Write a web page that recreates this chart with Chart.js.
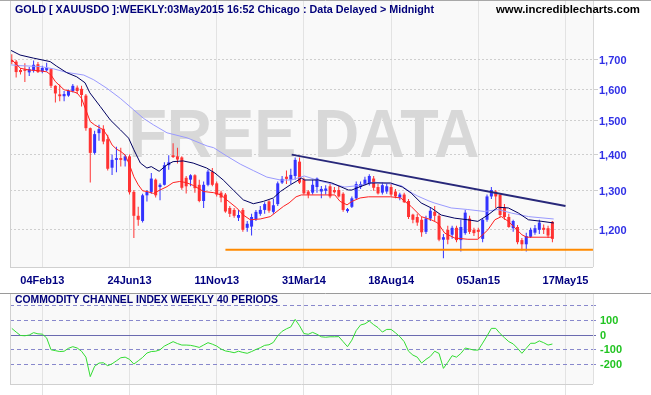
<!DOCTYPE html>
<html>
<head>
<meta charset="utf-8">
<script src="https://cdn.jsdelivr.net/npm/chart.js"></script>
<style>
  html, body { margin: 0; padding: 0; background: #fff; }
  body { width: 651px; height: 395px; position: relative; overflow: hidden; }
  #main { position: absolute; left: 0; top: 0; }
  #cci { position: absolute; left: 0; top: 293px; }
</style>
</head>
<body>
<canvas id="main" width="651" height="292"></canvas>
<canvas id="cci" width="651" height="102"></canvas>
<script>
// weekly candles, week 0 = 04Feb13
const firstWeek = -7;
const opens = [
  1700, 1694, 1665, 1667, 1657, 1663, 1685,
  1660, 1664, 1668, 1612, 1584, 1578, 1580, 1595, 1606, 1602,
  1580, 1478, 1405, 1463, 1476, 1445, 1363, 1385, 1390, 1383,
  1395, 1297, 1235, 1222, 1288, 1297, 1330, 1310, 1316, 1370,
  1398, 1395, 1392, 1335, 1330, 1342, 1316, 1273, 1316, 1352,
  1320, 1295, 1290, 1255, 1250, 1230, 1250, 1205, 1208, 1227,
  1240, 1250, 1272, 1245, 1265, 1322, 1338, 1330, 1340, 1380,
  1330, 1298, 1295, 1310, 1298, 1300, 1312, 1302, 1302, 1292,
  1247, 1258, 1280, 1310, 1318, 1318, 1333, 1310, 1295, 1298,
  1310, 1298, 1282, 1290, 1273, 1238, 1232, 1225, 1195, 1228,
  1245, 1235, 1176, 1200, 1188, 1205, 1175, 1192, 1228, 1200,
  1200, 1178, 1225, 1285, 1298, 1289, 1256, 1232, 1204, 1207,
  1175, 1165, 1183, 1193, 1200, 1205, 1204, 1220
];
const highs = [
  1720, 1700, 1672, 1688, 1675, 1698, 1693,
  1680, 1690, 1672, 1614, 1616, 1595, 1600, 1618, 1613, 1612,
  1585, 1480, 1470, 1488, 1487, 1458, 1400, 1423, 1420, 1400,
  1400, 1302, 1258, 1292, 1302, 1348, 1333, 1320, 1378, 1398,
  1433, 1420, 1395, 1340, 1345, 1345, 1330, 1325, 1357, 1362,
  1325, 1300, 1294, 1260, 1255, 1250, 1255, 1222, 1240, 1250,
  1260, 1270, 1275, 1278, 1325, 1340, 1355, 1360, 1392, 1392,
  1335, 1302, 1330, 1336, 1313, 1315, 1318, 1310, 1315, 1296,
  1255, 1285, 1325, 1325, 1338, 1345, 1340, 1318, 1322, 1320,
  1318, 1305, 1295, 1295, 1278, 1240, 1240, 1232, 1235, 1255,
  1260, 1240, 1190, 1210, 1210, 1210, 1225, 1250, 1235, 1205,
  1205, 1228, 1290, 1310, 1302, 1292, 1265, 1240, 1225, 1212,
  1180, 1193, 1205, 1212, 1225, 1213, 1210, 1222
];
const lows = [
  1686, 1640, 1650, 1625, 1645, 1657, 1655,
  1654, 1660, 1605, 1558, 1562, 1562, 1576, 1590, 1585, 1545,
  1470, 1322, 1400, 1440, 1430, 1355, 1343, 1350, 1366, 1366,
  1290, 1180, 1210, 1218, 1272, 1292, 1282, 1275, 1314, 1357,
  1390, 1375, 1303, 1293, 1312, 1295, 1270, 1255, 1312, 1312,
  1285, 1270, 1243, 1232, 1230, 1222, 1195, 1195, 1186, 1222,
  1235, 1240, 1243, 1240, 1260, 1318, 1318, 1318, 1330, 1318,
  1290, 1280, 1290, 1295, 1280, 1290, 1280, 1293, 1282, 1245,
  1243, 1255, 1278, 1305, 1315, 1314, 1300, 1290, 1290, 1292,
  1285, 1280, 1275, 1268, 1227, 1216, 1210, 1183, 1190, 1222,
  1222, 1172, 1132, 1165, 1178, 1170, 1148, 1188, 1190, 1185,
  1178, 1170, 1220, 1278, 1255, 1232, 1225, 1205, 1195, 1165,
  1150, 1148, 1180, 1188, 1190, 1190, 1180, 1170
];
const closes = [
  1693, 1658, 1658, 1662, 1668, 1683, 1658,
  1672, 1672, 1612, 1587, 1578, 1585, 1595, 1612, 1595, 1582,
  1478, 1405, 1460, 1475, 1438, 1360, 1385, 1390, 1385, 1395,
  1296, 1235, 1225, 1288, 1297, 1333, 1288, 1316, 1370, 1378,
  1393, 1386, 1308, 1312, 1342, 1307, 1273, 1316, 1352, 1316,
  1290, 1282, 1246, 1240, 1235, 1237, 1200, 1215, 1232, 1245,
  1250, 1265, 1248, 1262, 1320, 1332, 1332, 1343, 1385, 1322,
  1293, 1290, 1316, 1333, 1305, 1306, 1285, 1296, 1285, 1250,
  1252, 1280, 1318, 1318, 1330, 1340, 1308, 1293, 1315, 1312,
  1290, 1285, 1290, 1270, 1232, 1225, 1218, 1194, 1228, 1248,
  1235, 1176, 1182, 1176, 1205, 1175, 1207, 1243, 1195, 1192,
  1195, 1225, 1285, 1302, 1285, 1237, 1232, 1207, 1222, 1170,
  1165, 1185, 1200, 1204, 1218, 1200, 1186, 1178
];

// overlay lines: [week, price]
const redLine = [[-7,1700],[-5,1671],[-3,1665],[-1,1663],[1,1659],[2,1648],[3,1626],[5,1599],[7,1593],[8,1588],[9,1571],[10,1534],[11,1498],[12,1488],[14,1473],[15,1453],[16,1428],[17,1416],[18,1409],[19,1399],[20,1371],[21,1338],[22,1316],[23,1300],[24,1298],[25.5,1293],[27,1302],[28.6,1311],[30,1322],[31.5,1325],[33,1322],[34.7,1314],[37,1298],[39.3,1295],[41,1289],[42.3,1276],[44.6,1255],[46.1,1237],[47.7,1225],[50,1227],[52.3,1233],[53.8,1246],[55.3,1259],[56.6,1268],[58.2,1284],[59.4,1289],[67.1,1289],[68.3,1272],[69.9,1263],[71,1272],[72.9,1281],[74.8,1284],[79.9,1284],[82.2,1281],[84.6,1259],[86.9,1233],[89.2,1225],[90.7,1217],[92.3,1192],[94.6,1180],[97.6,1177],[99.9,1177],[102.2,1200],[103.8,1225],[105.3,1233],[106.9,1221],[108.4,1205],[110,1188],[111.1,1182],[117,1182]];
const navyLine = [[-7.4,1735],[-5.1,1717],[-2,1706],[1.8,1694],[3.3,1678],[5.6,1656],[7.9,1642],[9.8,1622],[10.9,1589],[13.3,1545],[15.6,1503],[17.9,1473],[19.8,1448],[21,1414],[22.5,1376],[24,1362],[25,1366],[26.8,1353],[28.6,1371],[30,1380],[32.3,1382],[34.6,1376],[37.7,1362],[39.6,1348],[41.5,1329],[43.8,1302],[46.1,1276],[48.4,1266],[50.7,1272],[53,1281],[54.6,1298],[56.9,1316],[58.2,1325],[59.4,1334],[60.2,1329],[63.3,1329],[66.4,1321],[70.2,1302],[71,1302],[72.9,1311],[75.2,1321],[79.9,1321],[82.6,1310],[84.6,1294],[86.9,1268],[89.2,1255],[91.5,1237],[94.6,1229],[97.6,1225],[99.9,1221],[102.2,1237],[104.5,1257],[106.9,1255],[109.2,1242],[111.5,1225],[114.6,1221],[117.3,1217]];
const lavLine = [[-7.4,1683],[-5.1,1680],[-0.5,1677],[2.6,1669],[5.6,1657],[9.5,1648],[11.8,1632],[14.8,1604],[17.9,1571],[21,1534],[23.2,1508],[25.5,1488],[28.6,1464],[33.2,1449],[37.8,1425],[39.3,1420],[42.3,1396],[45.4,1373],[48.4,1355],[51.5,1337],[54.6,1329],[57.1,1329],[60.1,1340],[64,1325],[69.4,1310],[72.5,1314],[76.3,1323],[80.2,1318],[82.3,1314],[84.8,1294],[86.1,1286],[88.7,1273],[89.9,1268],[93.8,1255],[97.6,1251],[101.4,1246],[104.5,1251],[107.6,1242],[111.5,1233],[117.3,1227]];
const trendLine = [[57.2,1400],[120,1260]];
const supportLine = [[42,1152],[126.3,1152]];

// CCI 40, one value per week
const cciValues = [
  45, 20, -3, -5, 0, 16, 8,
  6, -20, -100, -106, -112, -110, -90, -79, -88, -110,
  -150, -282, -212, -190, -188, -208, -195, -175, -154, -150,
  -165, -197, -175, -152, -122, -112, -110, -100, -75, -60,
  -45, -58, -68, -68, -70, -76, -84, -68, -52, -62,
  -75, -95, -108, -113, -120, -110, -118, -124, -112, -98,
  -86, -70, -66, -50, -5, 25, 42, 55, 106, 63,
  10, 5, 18, 5, -12, -15, -12, -12, -11, -45,
  -79, -35, 30, 68, 76, 95, 70, 50, 20, 38,
  38, 15, -11, -45, -110, -136, -150, -190, -165, -145,
  -110, -125, -226, -185, -140, -150, -125, -88, -95, -102,
  -102, -55, -7, 45, 45, 10, -18, -45, -60, -90,
  -124, -90, -56, -56, -40, -52, -68, -61
];
const cciLevels = [-200, -100, 0, 100, 200];

const tickWeeks = [0, 20, 40, 60, 80, 100, 120];
const tickDates = ['04Feb13', '24Jun13', '11Nov13', '31Mar14', '18Aug14', '05Jan15', '17May15'];
const priceTicks = [1200, 1300, 1400, 1500, 1600, 1700];

const X_MIN = -7.41, X_MAX = 126.31;
const boldFont = { family: 'Arial', size: 11, weight: 'bold' };

const weeks = opens.map((o, i) => firstWeek + i);
const candleCol = opens.map((o, i) => closes[i] >= o ? '#3333ff' : '#ff3333');
const pts = arr => arr.map(([x, y]) => ({ x, y }));

function fitText(ctx, text, x, y, width, font, color) {
  ctx.save();
  ctx.font = font;
  ctx.fillStyle = color;
  ctx.textBaseline = 'middle';
  const w = ctx.measureText(text).width;
  ctx.translate(x, y);
  ctx.scale(width / w, 1);
  ctx.fillText(text, 0, 0);
  ctx.restore();
}

function hline(ctx, x0, x1, y, color) {
  ctx.save(); ctx.strokeStyle = color; ctx.lineWidth = 1;
  ctx.beginPath(); ctx.moveTo(x0, y); ctx.lineTo(x1, y); ctx.stroke(); ctx.restore();
}
function vline(ctx, x, y0, y1, color) {
  ctx.save(); ctx.strokeStyle = color; ctx.lineWidth = 1;
  ctx.beginPath(); ctx.moveTo(x, y0); ctx.lineTo(x, y1); ctx.stroke(); ctx.restore();
}

// stop chart.js reserving half a label at the ends of the value axis
function fixWidth(w) {
  return s => { s.width = w; s.paddingTop = 0; s.paddingBottom = 0; };
}

const weekAxis = {
  type: 'linear', min: X_MIN, max: X_MAX, offset: false,
  afterBuildTicks: s => { s.ticks = tickWeeks.map(v => ({ value: v })); }
};

// main price panel
new Chart(document.getElementById('main'), {
  type: 'bar',
  data: {
    datasets: [
      { type: 'line', data: pts(redLine), borderColor: '#ff2020', borderWidth: 1, pointRadius: 0, tension: 0 },
      { type: 'line', data: pts(navyLine), borderColor: '#000060', borderWidth: 1, pointRadius: 0, tension: 0 },
      { type: 'line', data: pts(lavLine), borderColor: '#9a9aff', borderWidth: 1, pointRadius: 0, tension: 0 },
      { type: 'line', data: pts(trendLine), borderColor: '#28287a', borderWidth: 2, pointRadius: 0 },
      { type: 'line', data: pts(supportLine), borderColor: '#ff8a00', borderWidth: 2, pointRadius: 0 },
      { type: 'bar', data: weeks.map((w, i) => ({ x: w, y: [opens[i], closes[i]] })),
        backgroundColor: candleCol, barThickness: 3, grouped: false, minBarLength: 1, inflateAmount: 0 },
      { type: 'bar', data: weeks.map((w, i) => ({ x: w, y: [lows[i], highs[i]] })),
        backgroundColor: candleCol, barThickness: 1, grouped: false, inflateAmount: 0 }
    ]
  },
  options: {
    responsive: false, animation: false, events: [], devicePixelRatio: 1,
    layout: { padding: { left: 10, top: 1, right: 0, bottom: 0 } },
    plugins: { legend: { display: false }, tooltip: { enabled: false } },
    scales: {
      x: Object.assign({}, weekAxis, {
        afterFit: s => { s.height = 25; },
        grid: { offset: false, color: '#e3e3e3', drawTicks: false },
        border: { display: false },
        ticks: { padding: 7, color: '#000080', font: boldFont, maxRotation: 0, autoSkip: false,
                 callback: v => tickDates[tickWeeks.indexOf(v)] }
      }),
      y: {
        type: 'logarithmic', position: 'right', min: 1112, max: 1918,
        afterBuildTicks: s => { s.ticks = priceTicks.map(v => ({ value: v })); },
        afterFit: fixWidth(58),
        grid: { color: '#cfcfcf', tickLength: 5 },
        border: { display: false, dash: [2, 2] },
        ticks: { padding: 1, labelOffset: 1.5, color: '#3030e6', font: boldFont,
                 callback: v => v.toLocaleString('en-US') }
      }
    }
  },
  plugins: [{
    id: 'mainDeco',
    beforeDraw(chart) {
      const { ctx, chartArea: a } = chart;
      ctx.save(); ctx.fillStyle = '#f9f9f9';
      ctx.fillRect(a.left, a.top, a.right - a.left, a.bottom - a.top); ctx.restore();
    },
    beforeDatasetsDraw(chart) {
      const ctx = chart.ctx;
      ctx.save();
      ctx.font = 'bold 70px Arial';
      const m = ctx.measureText('FREE DATA');
      const w = m.actualBoundingBoxLeft + m.actualBoundingBoxRight;
      const h = m.actualBoundingBoxAscent + m.actualBoundingBoxDescent;
      ctx.translate(132, 109);
      ctx.scale(346 / w, 48 / h);
      ctx.fillStyle = '#d8d8d8';
      ctx.fillText('FREE DATA', m.actualBoundingBoxLeft, m.actualBoundingBoxAscent);
      ctx.restore();
    },
    afterDraw(chart) {
      const { ctx, chartArea: a } = chart;
      vline(ctx, a.left + 0.5, a.top, a.bottom, '#d0d0d0');
      vline(ctx, a.right + 0.5, a.top, a.bottom, '#d8d8d8');
      hline(ctx, a.left, a.right, a.bottom + 0.5, '#d0d0d0');
      hline(ctx, 0, 651, 0.5, '#a8a8a8');
      fitText(ctx, 'GOLD [ XAUUSDO ]:WEEKLY:03May2015 16:52 Chicago : Data Delayed > Midnight',
              15, 9.5, 419, 'bold 11px Arial', '#00007a');
      fitText(ctx, 'www.incrediblecharts.com', 496, 9.5, 144, 'bold 11px Arial', '#000000');
    }
  }]
});

// CCI panel
new Chart(document.getElementById('cci'), {
  type: 'line',
  data: {
    datasets: [{
      data: cciValues.map((v, i) => ({ x: firstWeek + i, y: v })),
      borderColor: '#33dd33', borderWidth: 1, pointRadius: 0, tension: 0
    }]
  },
  options: {
    responsive: false, animation: false, events: [], devicePixelRatio: 1,
    layout: { padding: { left: 10, top: 1, right: 0, bottom: 0 } },
    plugins: { legend: { display: false }, tooltip: { enabled: false } },
    scales: {
      x: Object.assign({}, weekAxis, {
        afterFit: s => { s.height = 11; },
        grid: { color: '#e3e3e3', drawTicks: true, tickLength: 11 },
        border: { display: false },
        ticks: { display: false }
      }),
      y: {
        type: 'linear', position: 'right', min: -332, max: 278,
        afterBuildTicks: s => { s.ticks = cciLevels.map(v => ({ value: v })); },
        afterFit: fixWidth(58),
        grid: { color: c => c.tick && c.tick.value === 0 ? '#6a6ab0' : '#8888cc', tickLength: 3 },
        border: { display: false, dash: c => c.tick && c.tick.value === 0 ? [] : [4, 3] },
        ticks: { padding: 4, labelOffset: 0.5, color: '#22c422', font: boldFont,
                 callback: v => v === 200 ? '' : String(v) }
      }
    }
  },
  plugins: [{
    id: 'cciDeco',
    beforeDraw(chart) {
      const { ctx, chartArea: a } = chart;
      ctx.save(); ctx.fillStyle = '#f9f9f9';
      ctx.fillRect(a.left, a.top, a.right - a.left, a.bottom - a.top); ctx.restore();
    },
    afterDraw(chart) {
      const { ctx, chartArea: a } = chart;
      vline(ctx, a.left + 0.5, a.top, a.bottom, '#d0d0d0');
      vline(ctx, a.right + 0.5, a.top, a.bottom, '#e0e0e0');
      hline(ctx, a.left, a.right, a.bottom + 0.5, '#d0d0d0');
      hline(ctx, 0, 651, 0.5, '#9a9a9a');
      fitText(ctx, 'COMMODITY CHANNEL INDEX WEEKLY 40 PERIODS', 15, 7, 263, 'bold 11px Arial', '#00007a');
    }
  }]
});
</script>
</body>
</html>
